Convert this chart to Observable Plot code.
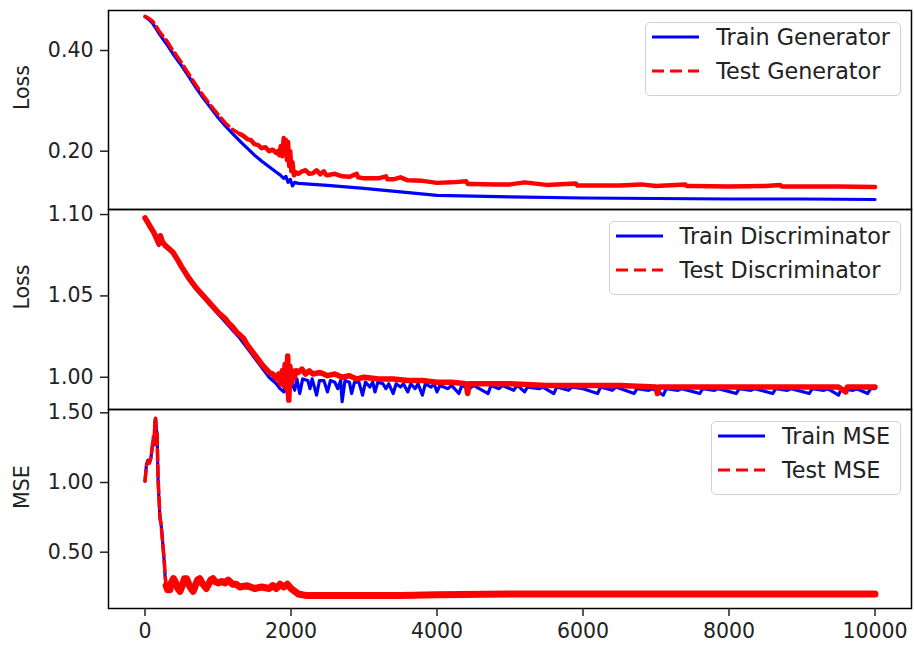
<!DOCTYPE html>
<html><head><meta charset="utf-8">
<script src="https://cdn.jsdelivr.net/npm/d3@7"></script>
<script src="https://cdn.jsdelivr.net/npm/@observablehq/plot@0.6"></script>
<style>
body{margin:0;background:#fff;font-family:"DejaVu Sans",sans-serif;}
#wrap{position:relative;width:914px;height:650px;overflow:hidden;}
.panel{position:absolute;left:0;}
.legend{position:absolute;right:13px;background:rgba(255,255,255,0.85);border:1.5px solid #d0d0d0;border-radius:5px;box-sizing:border-box;padding:0 10px 9px 5px;font-size:22.3px;color:#222;font-family:"DejaVu Sans",sans-serif;}
.row{display:flex;align-items:center;height:28px;white-space:nowrap;}
.row + .row{margin-top:6px;}
.row svg{margin-right:16px;flex:none;}
</style>
</head><body>
<div id="wrap"></div>
<script>
// ---------- Panel 1: Generator loss ----------
const trainGenEpochs = [0,50,100,150,200,300,400,500,600,700,800,900,1000,1100,1200,1300,1400,1500,1600,1700,1800,1850,1900,1930,1960,1990,2020,2050,2100,2500,3000,3500,4000,5000,6000,7000,8000,9000,10000];
const trainGen =       [0.467,0.462,0.455,0.444,0.432,0.412,0.390,0.370,0.348,0.326,0.305,0.286,0.267,0.250,0.235,0.220,0.206,0.192,0.180,0.169,0.158,0.153,0.146,0.150,0.138,0.144,0.131,0.138,0.136,0.132,0.126,0.119,0.112,0.109,0.107,0.106,0.105,0.105,0.104];
const testGenEpochs = [0,50,100,150,200,250,300,350,400,450,500,600,700,800,900,1000,1100,1200,1300,1350,1400,1450,1500,1550,1600,1650,1700,1750,1800,1820,1840,1860,1880,1900,1915,1930,1945,1960,1975,1990,2005,2020,2040,2070,2100,2150,2200,2250,2300,2350,2400,2450,2480,2500,2600,2700,2800,2900,2920,3000,3200,3300,3320,3400,3500,3600,3800,4000,4200,4400,4420,4500,4800,5000,5200,5500,5900,5920,6000,6500,6800,7000,7400,7420,7500,8000,8500,8700,8720,9000,9500,10000];
const testGen =       [0.468,0.464,0.459,0.449,0.437,0.428,0.419,0.407,0.397,0.386,0.376,0.353,0.331,0.310,0.291,0.273,0.256,0.243,0.234,0.230,0.224,0.222,0.214,0.212,0.206,0.208,0.200,0.203,0.196,0.200,0.192,0.210,0.190,0.226,0.195,0.222,0.182,0.218,0.170,0.200,0.160,0.178,0.152,0.158,0.155,0.160,0.162,0.155,0.156,0.162,0.154,0.160,0.153,0.152,0.155,0.150,0.149,0.155,0.148,0.146,0.146,0.150,0.144,0.144,0.148,0.142,0.141,0.137,0.138,0.140,0.135,0.135,0.134,0.134,0.138,0.133,0.136,0.132,0.132,0.132,0.134,0.131,0.134,0.131,0.131,0.130,0.131,0.133,0.130,0.130,0.130,0.129];

// ---------- Panel 2: Discriminator loss ----------
const trainDiscEpochs = [0,40,80,120,160,190,210,240,280,330,380,450,500,600,700,800,900,1000,1100,1200,1300,1400,1500,1600,1700,1800,1850,1900,1930,1960,1990,2000,2050,2080,2120,2160,2230,2260,2290,2350,2390,2450,2500,2540,2600,2640,2680,2700,2740,2800,2830,2870,2930,2980,3020,3080,3120,3150,3190,3260,3300,3340,3400,3440,3500,3540,3600,3640,3700,3740,3800,3840,3920,3960,4000,4040,4150,4200,4300,4340,4450,4500,4700,4740,4850,4900,5050,5100,5200,5240,5400,5450,5600,5640,5800,5850,6000,6200,6240,6400,6450,6700,6740,6900,6950,7100,7140,7300,7350,7600,7640,7800,7850,8100,8140,8300,8350,8600,8640,8800,8850,9100,9140,9300,9350,9500,9540,9700,9750,9900,9940,10000];
const trainDisc =       [1.098,1.094,1.091,1.088,1.084,1.081,1.086,1.082,1.080,1.078,1.076,1.071,1.067,1.060,1.054,1.049,1.044,1.039,1.034,1.029,1.024,1.018,1.012,1.006,1.000,0.996,0.993,0.991,0.996,0.986,0.999,0.998,0.992,0.999,0.990,0.999,0.998,0.993,0.999,0.989,0.998,0.998,0.991,0.998,0.997,0.993,0.998,0.985,0.998,0.997,0.990,0.997,0.997,0.989,0.997,0.994,0.997,0.991,0.997,0.996,0.993,0.996,0.990,0.996,0.994,0.996,0.991,0.996,0.993,0.996,0.989,0.996,0.994,0.996,0.991,0.995,0.993,0.995,0.990,0.995,0.993,0.995,0.990,0.995,0.993,0.995,0.992,0.995,0.991,0.994,0.993,0.994,0.990,0.994,0.992,0.994,0.993,0.990,0.994,0.992,0.994,0.990,0.993,0.992,0.993,0.989,0.993,0.992,0.993,0.990,0.993,0.992,0.993,0.990,0.993,0.992,0.993,0.990,0.993,0.992,0.993,0.990,0.993,0.992,0.993,0.989,0.993,0.992,0.993,0.990,0.993,0.993];
const testDiscEpochs = [0,40,80,120,160,190,210,240,280,330,380,450,500,600,700,800,900,1000,1100,1150,1200,1250,1300,1350,1400,1500,1600,1700,1750,1800,1830,1860,1880,1900,1920,1940,1955,1970,1985,2000,2020,2040,2070,2100,2150,2200,2250,2300,2400,2500,2600,2700,2800,2900,3000,3200,3400,3600,3800,4000,4200,4400,4420,4440,4600,5000,5500,6000,6500,7000,7020,7040,7500,8000,8500,9000,9500,9600,9620,10000];
const testDisc =       [1.098,1.095,1.092,1.089,1.085,1.082,1.087,1.083,1.081,1.079,1.077,1.072,1.068,1.061,1.055,1.050,1.045,1.040,1.036,1.033,1.031,1.028,1.026,1.024,1.020,1.014,1.008,1.003,1.002,0.999,1.002,0.996,1.004,0.995,1.008,0.993,1.013,0.986,1.007,0.996,1.004,0.999,1.004,1.003,1.005,1.002,1.004,1.002,1.003,1.001,1.002,1.000,1.001,0.999,1.000,0.999,0.999,0.998,0.998,0.997,0.997,0.996,0.990,0.996,0.996,0.996,0.995,0.995,0.995,0.994,0.990,0.994,0.994,0.994,0.994,0.994,0.994,0.991,0.994,0.994];

// ---------- Panel 3: MSE ----------
const mseEpochs = [0,20,40,60,80,100,115,125,135,145,155,165,180,195,205,220,235,250,265,275,290,310,340,360,390,420,450,480,510,540,570,600,630,660,690,720,750,780,810,840,870,900,930,960,1000,1050,1100,1140,1200,1250,1300,1400,1500,1600,1700,1750,1800,1850,1900,1950,2000,2050,2100,2200,2400,2600,2800,3000,3500,4000,5000,6000,7000,8000,9000,10000];
const trainMSE =  [1.01,1.13,1.16,1.14,1.17,1.26,1.32,1.27,1.44,1.46,1.38,1.36,1.00,0.85,0.74,0.70,0.62,0.52,0.42,0.33,0.26,0.22,0.23,0.28,0.32,0.28,0.23,0.22,0.26,0.31,0.32,0.27,0.23,0.22,0.26,0.30,0.32,0.28,0.25,0.24,0.27,0.31,0.31,0.29,0.28,0.30,0.28,0.31,0.27,0.28,0.25,0.26,0.24,0.25,0.23,0.26,0.24,0.28,0.25,0.27,0.24,0.22,0.20,0.19,0.19,0.185,0.19,0.19,0.19,0.195,0.20,0.20,0.20,0.20,0.20,0.20];
const testMSE =   [1.01,1.12,1.15,1.14,1.18,1.25,1.33,1.28,1.43,1.46,1.39,1.35,1.02,0.86,0.75,0.70,0.61,0.52,0.43,0.33,0.26,0.23,0.23,0.28,0.31,0.28,0.24,0.22,0.26,0.31,0.31,0.27,0.24,0.22,0.26,0.30,0.31,0.28,0.26,0.24,0.27,0.30,0.31,0.29,0.28,0.29,0.28,0.30,0.27,0.27,0.25,0.26,0.24,0.25,0.24,0.26,0.24,0.27,0.25,0.27,0.24,0.22,0.20,0.19,0.19,0.19,0.19,0.19,0.19,0.195,0.20,0.20,0.20,0.20,0.20,0.20];

const xTicks = [0,2000,4000,6000,8000,10000];
const genTicks = [0.20,0.40];
const discTicks = [1.00,1.05,1.10];
const mseTicks = [0.50,1.00,1.50];

const FONT = '"DejaVu Sans", sans-serif';
const zip = (xs, ys) => xs.map((x, i) => ({x, y: ys[i]}));

function panel({train, test, dashUntil, testWidth, trainWidth, yDomain, yTicks, label, height, marginTop, marginBottom, showX}) {
  const early = test.filter(d => d.x <= dashUntil);
  const late = test.filter(d => d.x >= dashUntil);
  const marks = [
    Plot.line(train, {x: "x", y: "y", stroke: "#0000ff", strokeWidth: trainWidth}),
    Plot.line(early, {x: "x", y: "y", stroke: "#ff0000", strokeWidth: 3.5, strokeDasharray: "11,5"}),
    Plot.line(late, {x: "x", y: "y", stroke: "#ff0000", strokeWidth: testWidth}),
    Plot.frame({stroke: "#000", strokeWidth: 1.5}),
    Plot.axisY({ticks: yTicks, tickFormat: d3.format(".2f"), tickSize: 8, tickPadding: 7, strokeWidth: 1.5, label: null, fontSize: 20.5}),
    Plot.text([label], {frameAnchor: "left", dx: -86, rotate: -90, text: d => d, fontSize: 20.5, fill: "#222"})
  ];
  if (showX) marks.push(Plot.axisX({ticks: xTicks, tickFormat: d => String(d), tickSize: 8, tickPadding: 7, strokeWidth: 1.5, label: null, fontSize: 20.5}));
  return Plot.plot({
    width: 914, height, marginLeft: 108, marginRight: 3, marginTop, marginBottom,
    x: {domain: [-500, 10500], axis: null},
    y: {domain: yDomain, axis: null},
    style: {fontFamily: FONT, fontSize: "20.5px", color: "#222", background: "transparent", overflow: "visible"},
    marks
  });
}

function legend(items, top) {
  const box = document.createElement("div");
  box.className = "legend";
  box.style.top = top + "px";
  box.style.height = "74.3px";
  for (const it of items) {
    const row = document.createElement("div");
    row.className = "row";
    const svg = d3.create("svg").attr("width", 49).attr("height", 10);
    svg.append("line").attr("x1", 1).attr("x2", 48).attr("y1", 5).attr("y2", 5)
      .attr("stroke", it.color).attr("stroke-width", 3.2)
      .attr("stroke-dasharray", it.dash ? "12,6" : null);
    row.appendChild(svg.node());
    const span = document.createElement("span");
    span.textContent = it.label;
    row.appendChild(span);
    box.appendChild(row);
  }
  return box;
}

const wrap = document.getElementById("wrap");
const panels = [
  {top: 0, el: panel({train: zip(trainGenEpochs, trainGen), test: zip(testGenEpochs, testGen), dashUntil: 1300, testWidth: 4.5, trainWidth: 3.2,
     yDomain: [0.0841, 0.4795], yTicks: genTicks, label: "Loss", height: 209, marginTop: 10, marginBottom: 0, showX: false})},
  {top: 209, el: panel({train: zip(trainDiscEpochs, trainDisc), test: zip(testDiscEpochs, testDisc), dashUntil: 0, testWidth: 5.5, trainWidth: 3.2,
     yDomain: [0.9802, 1.1031], yTicks: discTicks, label: "Loss", height: 200, marginTop: 0, marginBottom: 0, showX: false})},
  {top: 409, el: panel({train: zip(mseEpochs, trainMSE), test: zip(mseEpochs, testMSE), dashUntil: 290, testWidth: 7, trainWidth: 3.2,
     yDomain: [0.0961, 1.5237], yTicks: mseTicks, label: "MSE", height: 241, marginTop: 0, marginBottom: 42, showX: true})}
];
for (const p of panels) {
  const d = document.createElement("div");
  d.className = "panel";
  d.style.top = p.top + "px";
  d.appendChild(p.el);
  wrap.appendChild(d);
}
wrap.appendChild(legend([{label: "Train Generator", color: "#0000ff"}, {label: "Test Generator", color: "#ff0000", dash: true}], 21.7));
wrap.appendChild(legend([{label: "Train Discriminator", color: "#0000ff"}, {label: "Test Discriminator", color: "#ff0000", dash: true}], 220.7));
wrap.appendChild(legend([{label: "Train MSE", color: "#0000ff"}, {label: "Test MSE", color: "#ff0000", dash: true}], 420.7));
</script>
</body></html>
